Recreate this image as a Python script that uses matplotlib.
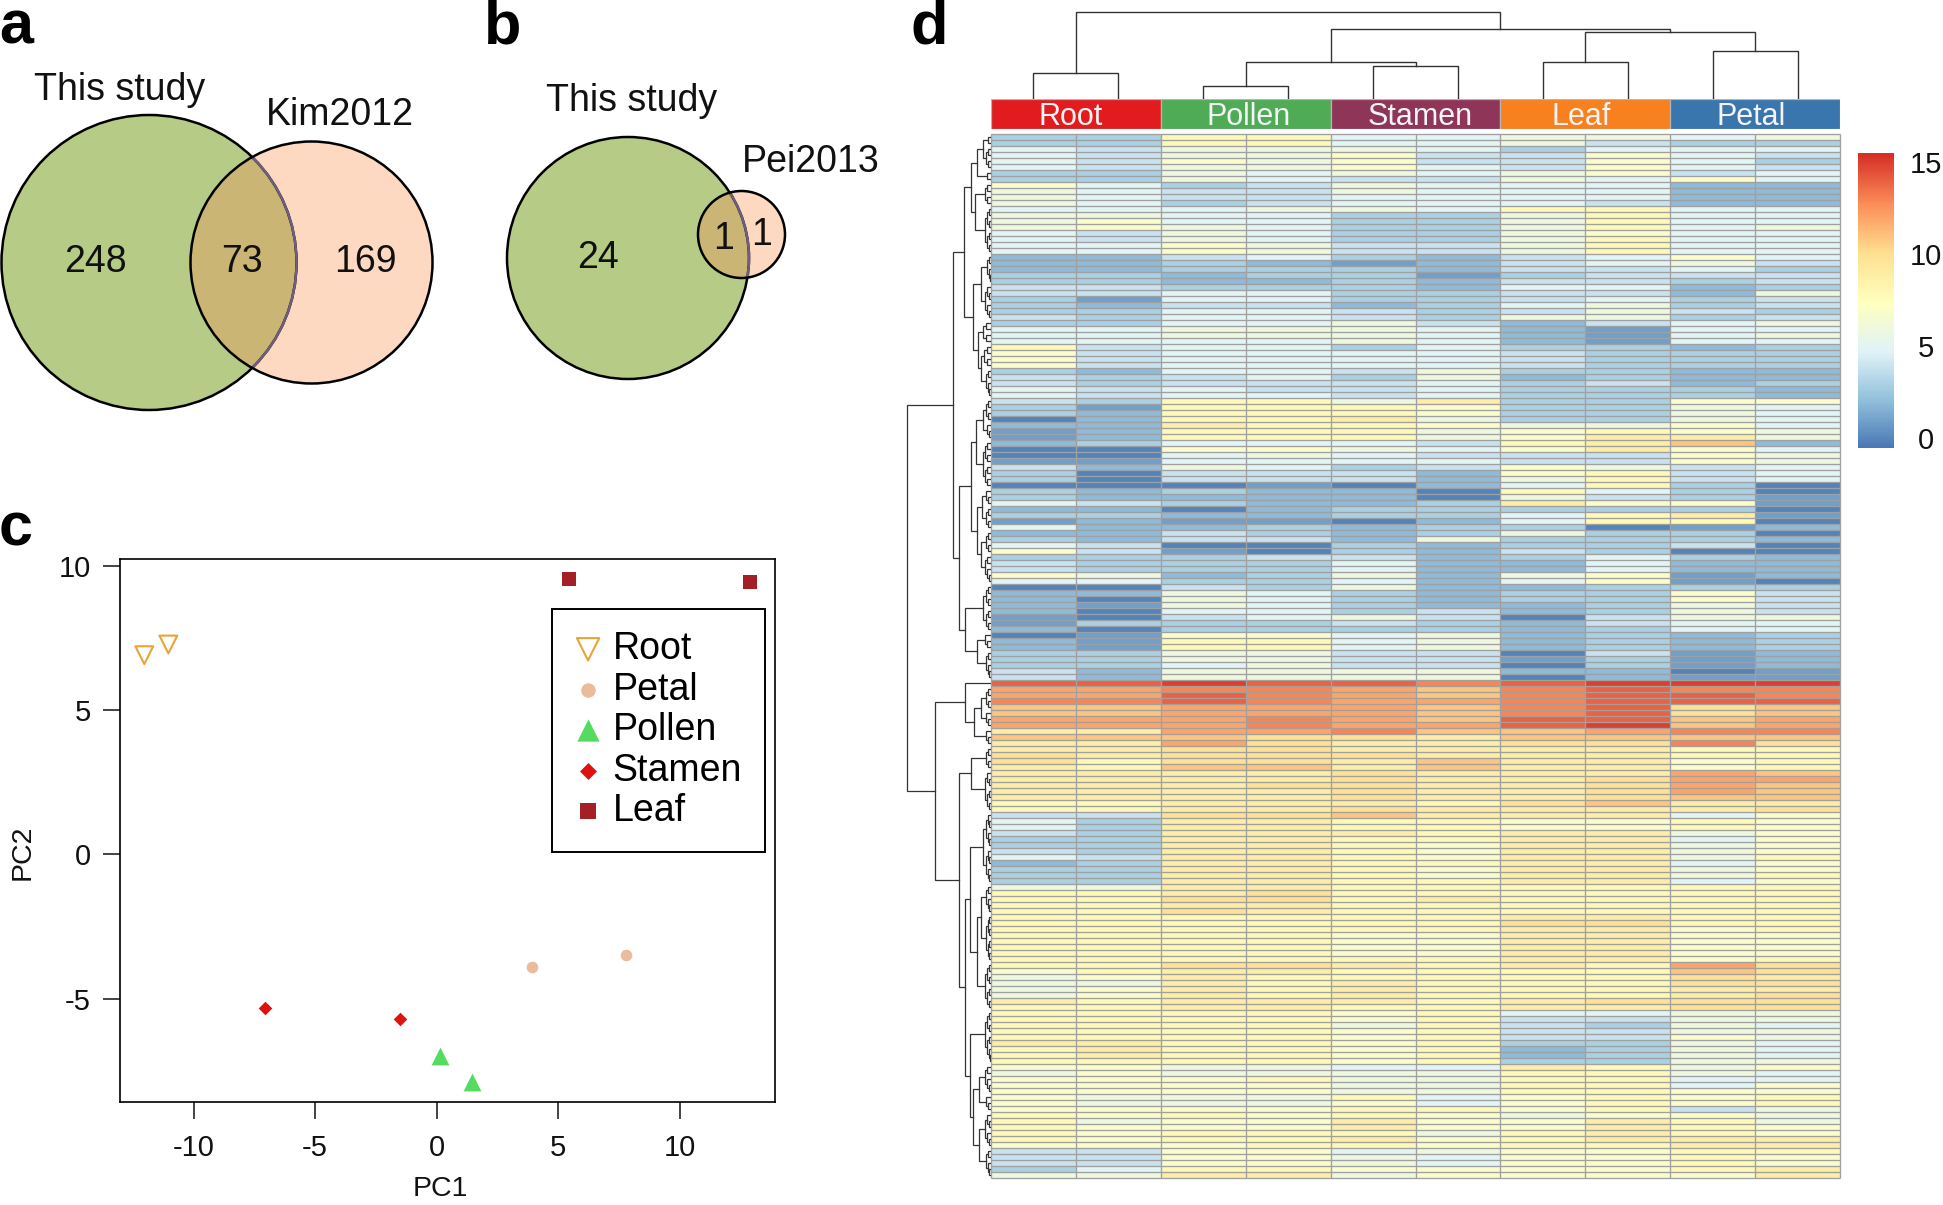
import matplotlib
matplotlib.use("Agg")
import matplotlib.pyplot as plt
import numpy as np
from matplotlib.colors import LinearSegmentedColormap
from matplotlib.patches import Circle

plt.rcParams['font.family'] = ['Liberation Sans', 'DejaVu Sans']
plt.rcParams['axes.unicode_minus'] = False
W, H = 1943, 1205

# ---------- panel c data ----------
pca_groups = ['Root', 'Petal', 'Pollen', 'Stamen', 'Leaf']
pc1_root, pc2_root = [-12.03, -11.04], [6.90, 7.27]
pc1_petal, pc2_petal = [3.92, 7.77], [-3.89, -3.49]
pc1_pollen, pc2_pollen = [0.13, 1.45], [-6.99, -7.88]
pc1_stamen, pc2_stamen = [-7.05, -1.51], [-5.31, -5.69]
pc1_leaf, pc2_leaf = [5.46, 12.91], [9.53, 9.44]
pca_ticks_x = [-10, -5, 0, 5, 10]
pca_ticks_y = [-5, 0, 5, 10]

# ---------- panels a, b data ----------
venn_a_counts = ['248', '73', '169']
venn_b_counts = ['24', '1', '1']

# ---------- panel d data: one hex digit per cell = expression value 0-15 ----------
tissues = ['Root', 'Pollen', 'Stamen', 'Leaf', 'Petal']
tissue_colors = ['#E11B1E', '#4FAB55', '#8E3558', '#F9801F', '#3A76AE']
heat_rows = [
"3388556656","3388556433","5466653555","5466744754","5476744753","5466754754",
"3365656745","3365446575","7534655522","6544655522","6544555522","6534555422",
"5556658855","6655336855","6755336855","6765336856","5465336755","5465336855",
"5576446855","5576446855","2245324575","2232124564","2233324453","3323313444",
"3322324434","4433325523","4455334426","3155334534","3244235634","3355434643",
"4355436634","3355642456","5566652155","5566652156","5555652155","8455353323",
"7455554333","7455554333","7455554333","3255463322","4345362322","4344453423",
"5454453332","5455453332","4388693377","3188873365","3288873365","0288963365",
"2298876675","1288867876","1288867996","23555489b2","0077657975","0056544476",
"1155554476","4265347645","3044427845","3044426845","0001025830","3232208530",
"3222206431","5432239771","2202333330","3322335891","1211025880","5223233012",
"2243236330","3244263332","5400323340","7410324300","3334423532","4333522522",
"4333522522","7623626712","5533525710","0043622333","2265323374","2065323374",
"2165322364","2055342364","1045640466","1333432455","2033332355","0177562323",
"2188562323","2188562323","3366440412","3366441312","3356440312","4266662201",
"4266660211","eefeedefff","ccddcbdedd","ccedcbdeed","ddedccdeee","bbcccbdeab",
"bbcccbdeab","cccdcbeebc","cccdccefbc","99ccdbbcdd","bbbaa9bbbb","99ca99aada",
"99aa999988","a9aaa99988","a8aa9b9978","98bb9b9978","9999a999cb","9999a99acc",
"999aa99acb","9999a99acb","9999a99abb","889998ab99","8899a9999a","44aab99957",
"5399887787","5399887787","4399989967","3399889957","3399879967","4399879967",
"5499879968","2399889957","3399879967","3399879968","3399889957","6699888888",
"889a888888","88aa898888","8899888888","88a9888888","8888889988","888888aa88",
"8888889978","8888779977","8888779977","8888779977","8888779977","8888889978",
"88aa9898ca","78998888ba","67988888a9","66989888aa","6798988899","679898889a",
"9899989aaa","88998899aa","8888785566","8888784466","8888684365","8888784466",
"8888784476","9988783365","8988782365","8988782365","8888783366","7766559867",
"6766668865","7778668855","7777668857","7777668877","7666857878","7666757878",
"7777887846","8787876776","8677977986","8777977987","8788868987","8788978999",
"7778878899","4477567788","4477657787","4477657787","3588777789","6699677779",
]
cbar_ticks = [0, 5, 10, 15]

# column dendrogram: (height in px above annotation line, left, right); leaves = column index
col_tree = (87, (26, 0, 1),
            (70, (37, (13, 2, 3), (33, 4, 5)),
             (67, (37, 6, 7), (48, 8, 9))))

# row dendrogram: [merge distance, left, right]; (n, d) = a run of n rows joined up to distance d
L_A = [14, [8, (2, 3), (4, 5)], (2, 4)]
L_U1a = [20, L_A, [16, (4, 6), (8, 6)]]
L_U1b = [18, [10, (5, 4), (6, 6)], [13, (4, 8), [10, (4, 7), (5, 5)]]]
L_U2a = [20, [15, [8, (4, 5), (3, 4)], [8, (4, 6), (4, 6)]],
         [14, [9, (3, 5), (4, 5)], [10, (4, 5), (5, 6)]]]
L_U2b = [26, (8, 8), [14, (3, 6), (5, 5)]]
L_upper = [38, [27, L_U1a, L_U1b], [32, L_U2a, L_U2b]]
L_L1 = [26, (1, 0), [17, [10, (4, 5), (3, 5)], (3, 5)]]
L_L2a = [20, (4, 5), (7, 6)]
L_L2b = [26, [21, (12, 8), [14, [10, (5, 5), (8, 5)], (8, 6)]],
         [21, (9, 6), [18, [12, (5, 6), (3, 5)], [12, (6, 6), (5, 5)]]]]
L_lower = [56, L_L1, [32, L_L2a, L_L2b]]
row_tree = [84, L_upper, L_lower]


def px_axes(x0, y0, x1, y1, **kw):
    return fig.add_axes([x0 / W, 1 - y1 / H, (x1 - x0) / W, (y1 - y0) / H], **kw)


fig = plt.figure(figsize=(W / 100, H / 100), dpi=100, facecolor='white')

# ---------- overlay for panels a, b and letters ----------
ov = px_axes(0, 0, W, H)
ov.set_xlim(0, W)
ov.set_ylim(H, 0)
ov.axis('off')

GREEN, PEACH, MIX, PURPLE = '#B6CB86', '#FDD9C1', '#CBB574', '#6F5F7C'


def venn(c1, r1, c2, r2):
    big = Circle(c1, r1, fc=GREEN, ec='none', zorder=1)
    small = Circle(c2, r2, fc=PEACH, ec='none', zorder=2)
    ov.add_patch(big)
    ov.add_patch(small)
    clip = Circle(c2, r2, transform=ov.transData)
    mid = Circle(c1, r1, fc=MIX, ec='none', zorder=3)
    ov.add_patch(mid)
    mid.set_clip_path(clip)
    ov.add_patch(Circle(c1, r1, fc='none', ec='black', lw=1.8, zorder=4))
    inner = Circle(c1, r1, fc='none', ec=PURPLE, lw=1.8, zorder=5)
    ov.add_patch(inner)
    inner.set_clip_path(Circle(c2, r2, transform=ov.transData))
    ov.add_patch(Circle(c2, r2, fc='none', ec='black', lw=1.8, zorder=6))


venn((149, 262.5), 147.5, (311.5, 262.5), 121)
venn((628, 258), 121, (741.5, 234.5), 43.5)

for s, x, y in [('This study', 120, 90), ('Kim2012', 340, 115), ('This study', 632, 101), ('Pei2013', 811, 161.5),
                (venn_a_counts[0], 95, 262.5), (venn_a_counts[1], 241.5, 262.5), (venn_a_counts[2], 365.5, 261.5),
                (venn_b_counts[0], 598, 258.5), (venn_b_counts[1], 723.5, 239), (venn_b_counts[2], 762, 235)]:
    ov.text(x, y, s, fontsize=27, ha='center', va='center', color='#111111', zorder=10)

for s, x, y in [('a', 16, 43), ('b', 503, 43), ('c', 16, 546), ('d', 929, 43)]:
    ov.text(x, y, s, fontsize=44, fontweight='bold', ha='center', va='baseline', color='black', zorder=10)

# ---------- panel c ----------
AX0, AY0, AX1, AY1 = 120, 559.3, 774.5, 1102
ax = px_axes(AX0, AY0, AX1, AY1)
ax.set_xlim(-13.03, 13.9)
ax.set_ylim(-8.57, 10.22)
ax.scatter(pc1_root, pc2_root, marker='v', s=165, facecolors='none', edgecolors='#E9A437', linewidths=1.5, label=pca_groups[0])
ax.scatter(pc1_petal, pc2_petal, marker='o', s=70, color='#E9BC9C', linewidths=0, label=pca_groups[1])
ax.scatter(pc1_pollen, pc2_pollen, marker='^', s=165, color='#55DC60', linewidths=0, label=pca_groups[2])
ax.scatter(pc1_stamen, pc2_stamen, marker='D', s=48, color='#E0120F', linewidths=0, label=pca_groups[3])
ax.scatter(pc1_leaf, pc2_leaf, marker='s', s=88, color='#A41F26', linewidths=0, label=pca_groups[4])
ax.set_xticks(pca_ticks_x)
ax.set_yticks(pca_ticks_y)
ax.tick_params(axis='both', length=12, width=1.1, labelsize=21, colors='#111111')
ax.tick_params(axis='x', pad=11)
ax.tick_params(axis='y', pad=9)
ax.set_xlabel('PC1', fontsize=20.5, color='#111111', va='center')
ax.set_ylabel('PC2', fontsize=20.5, color='#111111', va='center')
ax.xaxis.set_label_coords((440 - AX0) / (AX1 - AX0), -(1189.5 - AY1) / (AY1 - AY0))
ax.yaxis.set_label_coords(-(AX0 - 23) / (AX1 - AX0), (AY1 - 852) / (AY1 - AY0))
for sp in ax.spines.values():
    sp.set_linewidth(1.2)
leg = ax.legend(loc='upper left', bbox_to_anchor=((551.5 - AX0) / (AX1 - AX0), 1 - (608.6 - AY0) / (AY1 - AY0)),
                frameon=True, fancybox=False, framealpha=1, edgecolor='black', fontsize=27,
                labelspacing=0.12, borderaxespad=0, borderpad=0.6, handletextpad=0.28, handlelength=0.75,
                scatterpoints=1, markerscale=1.25)
leg.get_frame().set_linewidth(1.4)

# ---------- panel d heat map ----------
heat = np.array([[int(ch, 16) for ch in row] for row in heat_rows], dtype=float)
cmap = LinearSegmentedColormap.from_list('rdylbu7', ['#4575B4', '#91BFDB', '#E0F3F8', '#FFFFBF', '#FEE090', '#FC8D59', '#D73027'])
HX0, HX1 = 991, 1840
HY0, HY1 = 134, 1178
hx = px_axes(HX0, HY0, HX1, HY1)
mesh = hx.pcolormesh(np.arange(heat.shape[1] + 1), np.arange(heat.shape[0] + 1), heat, cmap=cmap,
                     vmin=-0.54, vmax=15.49)
hx.hlines(np.arange(heat.shape[0] + 1), 0, heat.shape[1], color='#A0A0A0', lw=0.95, clip_on=False)
hx.vlines(np.arange(heat.shape[1] + 1), 0, heat.shape[0], color='#A0A0A0', lw=0.95, clip_on=False)
hx.set_xlim(0, heat.shape[1])
hx.set_ylim(heat.shape[0], 0)
hx.axis('off')

# annotation strip
an = px_axes(HX0, 99.3, HX1, 129.3)
an.bar([0, 2, 4, 6, 8], [1] * 5, width=2, align='edge', color=tissue_colors, edgecolor='#B5B5B5', linewidth=0.9)
an.set_xlim(0, 10)
an.set_ylim(0, 1)
an.axis('off')
label_centres = [0.94, 3.04, 5.05, 6.95, 8.95]
for t, xc in zip(tissues, label_centres):
    an.text(xc, 0.42, t, color='#F4F4F4', fontsize=22, ha='center', va='center')

# colour bar
cax = px_axes(1858, 152.7, 1893.6, 448)
cb = fig.colorbar(mesh, cax=cax, ticks=cbar_ticks)
cb.outline.set_visible(False)
cb.solids.set_edgecolor('face')
cax.tick_params(length=0, labelsize=21, pad=23.5, colors='#111111')
for lab in cax.get_yticklabels():
    lab.set_ha('center')

# top dendrogram
td = px_axes(HX0, 0, HX1, 99)
td.set_xlim(0, 10)
td.set_ylim(0, 99)
td.axis('off')


def draw_col(node):
    if not isinstance(node, tuple):
        return node + 0.5, 1.0
    h, a, b = node
    xa, ha = draw_col(a)
    xb, hb = draw_col(b)
    td.plot([xa, xa, xb, xb], [ha, h, h, hb], color='#333333', lw=1.0, solid_joinstyle='miter')
    return (xa + xb) / 2, h


draw_col(col_tree)

# left dendrogram
ld = px_axes(900, HY0, HX0, HY1)
ld.set_xlim(91, 0)
ld.set_ylim(heat.shape[0], 0)
ld.axis('off')
cursor = [0]


def draw_run(n, dmax):
    if n == 1:
        y = cursor[0] + 0.5
        cursor[0] += 1
        return y, 0.0
    left = n // 2
    ya, da = draw_run(left, dmax * 0.6)
    yb, db = draw_run(n - left, dmax * 0.6)
    ld.plot([da, dmax, dmax, db], [ya, ya, yb, yb], color='#333333', lw=0.9, solid_joinstyle='miter')
    return (ya + yb) / 2, dmax


def draw_row(node):
    if isinstance(node, tuple):
        return draw_run(*node)
    dn, a, b = node
    ya, da = draw_row(a)
    yb, db = draw_row(b)
    ld.plot([da, dn, dn, db], [ya, ya, yb, yb], color='#333333', lw=0.9, solid_joinstyle='miter')
    return (ya + yb) / 2, dn


draw_row(row_tree)

fig.savefig('out.png', dpi=100, facecolor='white')
